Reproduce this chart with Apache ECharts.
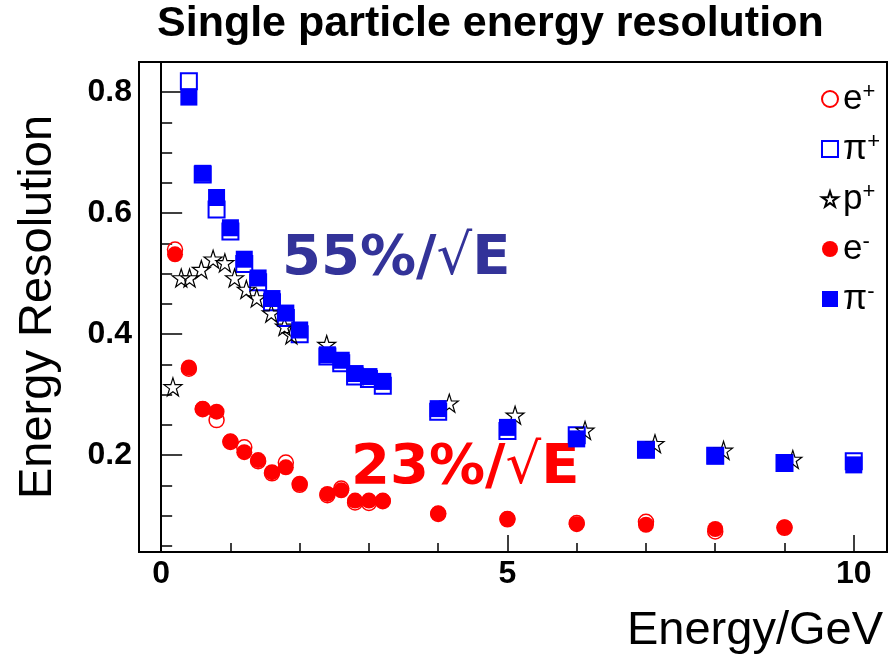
<!DOCTYPE html>
<html>
<head>
<meta charset="utf-8">
<script src="https://cdn.jsdelivr.net/npm/echarts@6/dist/echarts.min.js"></script>
<style>
  html, body { margin: 0; padding: 0; background: #fff; }
  #chart { width: 893px; height: 662px; }
</style>
</head>
<body>
<div id="chart"></div>
<script>
// beam energies (GeV)
const eEnergy = [0.2, 0.4, 0.6, 0.8, 1.0, 1.2, 1.4, 1.6, 1.8, 2.0, 2.4, 2.6, 2.8, 3.0, 3.2, 4, 5, 6, 7, 8, 9]
const piEnergy = [0.4, 0.6, 0.8, 1.0, 1.2, 1.4, 1.6, 1.8, 2.0, 2.4, 2.6, 2.8, 3.0, 3.2, 4, 5, 6, 7, 8, 9, 10]
const pEnergy = [0.17, 0.29, 0.41, 0.58, 0.75, 0.92, 1.06, 1.23, 1.38, 1.59, 1.78, 1.88, 2.39, 4.16, 5.11, 6.12, 7.13, 8.12, 9.12]

// energy resolution
const ePlus = [0.540, 0.343, 0.276, 0.258, 0.222, 0.213, 0.190, 0.170, 0.188, 0.151, 0.134, 0.145, 0.122, 0.121, 0.124, 0.103, 0.094, 0.088, 0.090, 0.074, 0.080]
const eMinus = [0.532, 0.345, 0.277, 0.272, 0.223, 0.205, 0.192, 0.172, 0.180, 0.153, 0.136, 0.142, 0.125, 0.125, 0.125, 0.104, 0.095, 0.086, 0.085, 0.078, 0.081]
const piPlus = [0.818, 0.664, 0.606, 0.570, 0.516, 0.486, 0.453, 0.427, 0.400, 0.363, 0.352, 0.330, 0.326, 0.315, 0.272, 0.240, 0.233, 0.209, 0.199, 0.187, 0.190]
const piMinus = [0.792, 0.666, 0.626, 0.576, 0.524, 0.493, 0.459, 0.435, 0.407, 0.366, 0.357, 0.335, 0.330, 0.322, 0.277, 0.246, 0.227, 0.209, 0.199, 0.187, 0.184]
const pPlus = [0.313, 0.493, 0.493, 0.507, 0.524, 0.518, 0.493, 0.474, 0.460, 0.435, 0.413, 0.399, 0.383, 0.286, 0.266, 0.241, 0.219, 0.208, 0.193]

const xTickLabels = [0, 5, 10]
const yTickLabels = [0.2, 0.4, 0.6, 0.8]

const pairs = (xs, ys) => xs.map((x, i) => [x, ys[i]])

const starPath = "path://M50,2 L61,36 L97,36 L68,57 L79,92 L50,71 L21,92 L32,57 L3,36 L39,36 Z"
const font = "Liberation Sans, Arial, sans-serif"

const chart = echarts.init(document.getElementById("chart"))

const option = {
  animation: false,
  backgroundColor: "#fff",
  title: {
    text: "Single particle energy resolution",
    left: 157,
    top: 3,
    padding: 0,
    textStyle: { fontFamily: font, fontWeight: "bold", fontSize: 43, color: "#000" },
  },
  legend: {
    orient: "vertical",
    left: 816,
    top: 76,
    itemGap: 14,
    itemWidth: 16,
    itemHeight: 16,
    selectedMode: false,
    data: ["e+", "π+", "p+", "e-", "π-"],
    formatter: (name) => "{b|" + name.slice(0, -1) + "}{s|" + name.slice(-1) + "}",
    textStyle: {
      fontFamily: font,
      color: "#000",
      rich: {
        b: { fontFamily: font, fontSize: 35, lineHeight: 36, verticalAlign: "bottom" },
        s: { fontFamily: font, fontSize: 22, verticalAlign: "top" },
      },
    },
  },
  grid: {
    left: 139,
    right: 6,
    top: 62,
    bottom: 110,
    show: true,
    borderColor: "#000",
    borderWidth: 2,
  },
  xAxis: [
    {
      type: "value",
      min: -0.32,
      max: 10.48,
      splitNumber: 2,
      name: "Energy/GeV",
      nameLocation: "end",
      nameGap: -4,
      nameTextStyle: {
        fontFamily: font, fontSize: 47, color: "#000",
        align: "right", verticalAlign: "top", padding: [56, 0, 0, 0],
      },
      axisLine: { lineStyle: { color: "#000", width: 2 } },
      axisTick: { inside: true, length: 17, lineStyle: { color: "#000", width: 1.5 } },
      axisLabel: {
        showMinLabel: false,
        showMaxLabel: false,
        margin: 6,
        fontFamily: font, fontWeight: "bold", fontSize: 32, color: "#000",
        formatter: (v) => (xTickLabels.includes(v) ? String(v) : ""),
      },
      splitLine: { show: false },
    },
    {
      type: "value",
      min: -0.32,
      max: 10.48,
      splitNumber: 10,
      position: "bottom",
      axisLine: { show: false },
      axisTick: { inside: true, length: 9, lineStyle: { color: "#000", width: 1.5 } },
      axisLabel: { show: false },
      splitLine: { show: false },
    },
  ],
  yAxis: [
    {
      type: "value",
      min: 0.04,
      max: 0.85,
      splitNumber: 4,
      position: "left",
      name: "Energy Resolution",
      nameLocation: "middle",
      nameGap: 77,
      nameRotate: 90,
      nameTextStyle: { fontFamily: font, fontSize: 47, color: "#000" },
      axisLine: { lineStyle: { color: "#000", width: 2 } },
      axisTick: { inside: true, length: 21, lineStyle: { color: "#000", width: 1.5 } },
      axisLabel: {
        showMinLabel: false,
        showMaxLabel: false,
        margin: 7,
        fontFamily: font, fontWeight: "bold", fontSize: 32, color: "#000",
        formatter: (v) => {
          const r = Math.round(v * 10) / 10
          return yTickLabels.includes(r) && Math.abs(v - r) < 1e-6 ? r.toFixed(1) : ""
        },
      },
      splitLine: { show: false },
    },
    {
      type: "value",
      min: 0.04,
      max: 0.85,
      splitNumber: 16,
      position: "left",
      axisLine: { show: false },
      axisTick: { inside: true, length: 11, lineStyle: { color: "#000", width: 1.5 } },
      axisLabel: { show: false },
      splitLine: { show: false },
    },
  ],
  graphic: [
    {
      type: "text",
      left: 282,
      top: 231,
      style: {
        text: "{a|55%/}{r|√}{a|E}",
        rich: {
          a: { fontFamily: "DejaVu Sans", fontWeight: "bold", fontSize: 56, fill: "#333399" },
          r: { fontFamily: "DejaVu Sans", fontWeight: "normal", fontSize: 56, fill: "#333399" },
        },
      },
    },
    {
      type: "text",
      left: 351,
      top: 440,
      style: {
        text: "{a|23%/}{r|√}{a|E}",
        rich: {
          a: { fontFamily: "DejaVu Sans", fontWeight: "bold", fontSize: 56, fill: "#ff0000" },
          r: { fontFamily: "DejaVu Sans", fontWeight: "normal", fontSize: 56, fill: "#ff0000" },
        },
      },
    },
  ],
  series: [
    {
      name: "e+",
      type: "scatter",
      symbol: "circle",
      symbolSize: 15,
      data: pairs(eEnergy, ePlus),
      itemStyle: { color: "rgba(0,0,0,0)", borderColor: "#ff0000", borderWidth: 1.5, opacity: 1 },
    },
    {
      name: "π+",
      type: "scatter",
      symbol: "rect",
      symbolSize: 16,
      data: pairs(piEnergy, piPlus),
      itemStyle: { color: "rgba(0,0,0,0)", borderColor: "#0000ff", borderWidth: 2, opacity: 1 },
    },
    {
      name: "p+",
      type: "scatter",
      symbol: starPath,
      symbolSize: 18,
      data: pairs(pEnergy, pPlus),
      itemStyle: { color: "rgba(0,0,0,0)", borderColor: "#000", borderWidth: 1.2, opacity: 1 },
    },
    {
      name: "e-",
      type: "scatter",
      symbol: "circle",
      symbolSize: 16,
      data: pairs(eEnergy, eMinus),
      itemStyle: { color: "#ff0000", opacity: 1 },
    },
    {
      name: "π-",
      type: "scatter",
      symbol: "rect",
      symbolSize: 17,
      data: pairs(piEnergy, piMinus),
      itemStyle: { color: "#0000ff", opacity: 1 },
    },
  ],
}

chart.setOption(option)
</script>
</body>
</html>
